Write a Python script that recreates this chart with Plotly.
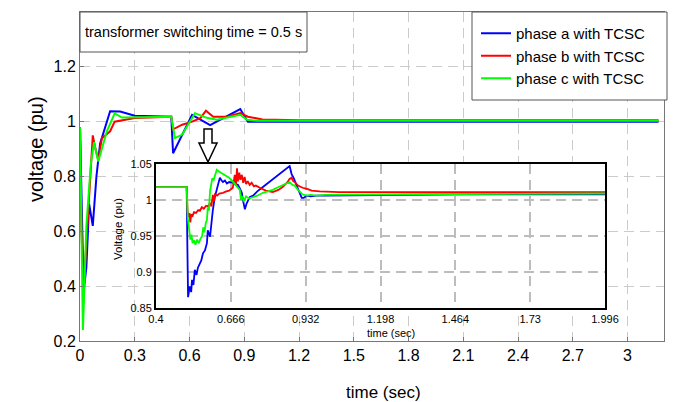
import plotly.graph_objects as go

# ---------------- main plot data (time in s, voltage in pu) ----------------
t_main_a = [0, 0.008, 0.02, 0.035, 0.05, 0.07, 0.09, 0.11, 0.165, 0.22, 0.3, 0.5, 0.505, 0.51,
            0.614, 0.713, 0.878, 0.92, 1.0, 3.17]
v_main_a = [0.98, 0.7, 0.38, 0.47, 0.70, 0.62, 0.8, 0.92, 1.038, 1.037, 1.022, 1.018, 0.95, 0.885,
            1.025, 0.987, 1.046, 1.0, 1.0, 1.0]

t_main_b = [0, 0.008, 0.02, 0.04, 0.07, 0.085, 0.1, 0.12, 0.165, 0.19, 0.3, 0.5, 0.51, 0.56, 0.614,
            0.66, 0.69, 0.73, 0.805, 0.878, 0.92, 1.0, 1.2, 3.17]
v_main_b = [0.98, 0.6, 0.39, 0.6, 0.95, 0.9, 0.86, 0.94, 0.965, 1.0, 1.013, 1.018, 0.972, 0.989, 1.0,
            1.013, 1.04, 1.018, 1.018, 1.031, 1.018, 1.008, 1.005, 1.005]

t_main_c = [0, 0.005, 0.016, 0.035, 0.06, 0.077, 0.1, 0.147, 0.19, 0.23, 0.5, 0.52, 0.56, 0.63,
            0.695, 0.75, 0.878, 0.915, 0.97, 3.17]
v_main_c = [0.98, 0.7, 0.24, 0.62, 0.85, 0.925, 0.855, 0.965, 1.03, 1.015, 1.018, 0.94, 0.953, 1.031,
            1.014, 1.007, 1.025, 1.007, 1.003, 1.003]

# ---------------- inset (zoomed) data ----------------
t_in_a = [0.40, 0.509, 0.511, 0.514, 0.52, 0.525, 0.528, 0.533, 0.538, 0.544, 0.549, 0.556, 0.561,
          0.567, 0.574, 0.581, 0.584, 0.592, 0.597, 0.602, 0.609, 0.614, 0.62, 0.627, 0.633, 0.638,
          0.645, 0.652, 0.66, 0.673, 0.68, 0.691, 0.698, 0.705, 0.71, 0.716, 0.722, 0.728, 0.733,
          0.745, 0.76, 0.78, 0.80, 0.82, 0.84, 0.86, 0.875, 0.882, 0.89, 0.9, 0.91, 0.918, 0.925,
          0.935, 0.95, 0.97, 1.0, 1.2, 1.5, 1.996]
v_in_a = [1.018, 1.018, 0.95, 0.865, 0.88, 0.872, 0.889, 0.882, 0.903, 0.896, 0.906, 0.912, 0.916,
          0.926, 0.93, 0.94, 0.958, 0.949, 0.97, 0.986, 1.004, 1.012, 1.024, 1.031, 1.027, 1.025,
          1.027, 1.023, 1.025, 1.024, 1.022, 1.021, 1.016, 1.01, 0.998, 0.987, 0.995, 0.999, 1.004,
          1.006, 1.012, 1.018, 1.024, 1.03, 1.036, 1.042, 1.047, 1.036, 1.03, 1.02, 1.01, 1.003, 1.003,
          1.006, 1.005, 1.006, 1.006, 1.007, 1.008, 1.008]

t_in_b = [0.40, 0.509, 0.512, 0.515, 0.519, 0.522, 0.525, 0.53, 0.535, 0.542, 0.55, 0.556, 0.563,
          0.57, 0.578, 0.585, 0.592, 0.597, 0.602, 0.606, 0.61, 0.617, 0.625, 0.638, 0.65, 0.66,
          0.673, 0.68, 0.684, 0.688, 0.691, 0.696, 0.7, 0.705, 0.71, 0.715, 0.72, 0.726, 0.733,
          0.74, 0.748, 0.755, 0.769, 0.79, 0.815, 0.835, 0.85, 0.86, 0.868, 0.874, 0.882, 0.888,
          0.893, 0.905, 0.921, 0.94, 0.953, 0.982, 1.05, 1.4, 1.996]
v_in_b = [1.018, 1.018, 0.985, 0.976, 0.982, 0.969, 0.98, 0.978, 0.983, 0.982, 0.986, 0.985, 0.99,
          0.988, 0.992, 0.991, 0.996, 0.991, 1.007, 0.998, 1.008, 1.006, 1.009, 1.01, 1.012, 1.013,
          1.017, 1.035, 1.02, 1.044, 1.026, 1.038, 1.028, 1.035, 1.024, 1.032, 1.022, 1.026, 1.021,
          1.024, 1.019, 1.02, 1.017, 1.013, 1.011, 1.014, 1.018, 1.022, 1.025, 1.029, 1.031, 1.026,
          1.025, 1.02, 1.017, 1.015, 1.013, 1.012, 1.011, 1.011, 1.011]

t_in_c = [0.40, 0.509, 0.513, 0.518, 0.522, 0.526, 0.53, 0.535, 0.54, 0.546, 0.552, 0.558, 0.564,
          0.568, 0.572, 0.577, 0.581, 0.584, 0.588, 0.592, 0.596, 0.6, 0.605, 0.61, 0.616, 0.622,
          0.63, 0.64, 0.65, 0.66, 0.67, 0.68, 0.69, 0.698, 0.702, 0.706, 0.712, 0.72, 0.73, 0.744,
          0.76, 0.78, 0.8, 0.815, 0.83, 0.85, 0.865, 0.875, 0.885, 0.893, 0.905, 0.92, 0.936, 0.95,
          0.97, 1.0, 1.3, 1.996]
v_in_c = [1.018, 1.018, 0.975, 0.958, 0.945, 0.952, 0.94, 0.944, 0.938, 0.945, 0.94, 0.946, 0.95,
          0.962, 0.955, 0.968, 0.972, 0.99, 0.985, 1.012, 1.02, 1.03, 1.028, 1.036, 1.042, 1.04,
          1.038, 1.036, 1.033, 1.031, 1.027, 1.022, 1.018, 1.014, 1.0, 1.005, 0.998, 1.005, 1.002,
          1.004, 1.006, 1.01, 1.012, 1.014, 1.017, 1.021, 1.024, 1.025, 1.021, 1.02, 1.014, 1.008,
          1.006, 1.007, 1.006, 1.007, 1.008, 1.009]

series_names = ["phase a with TCSC", "phase b with TCSC", "phase c with TCSC"]
colors = ["#0000ff", "#ff0000", "#00ff00"]

main_x_ticks = [0, 0.3, 0.6, 0.9, 1.2, 1.5, 1.8, 2.1, 2.4, 2.7, 3.0]
main_x_labels = ["0", "0.3", "0.6", "0.9", "1.2", "1.5", "1.8", "2.1", "2.4", "2.7", "3"]
main_y_ticks = [0.2, 0.4, 0.6, 0.8, 1.0, 1.2]
main_y_labels = ["0.2", "0.4", "0.6", "0.8", "1", "1.2"]
inset_x_ticks = [0.4, 0.666, 0.932, 1.198, 1.464, 1.73, 1.996]
inset_x_labels = ["0.4", "0.666", "0.932", "1.198", "1.464", "1.73", "1.996"]
inset_y_ticks = [0.85, 0.9, 0.95, 1.0, 1.05]
inset_y_labels = ["0.85", "0.9", "0.95", "1", "1.05"]

FONT = "Liberation Sans, Arial, sans-serif"
W, H = 673, 402
ML, MR, MT, MB = 80, 9, 12, 61
PW, PH = W - ML - MR, H - MT - MB


def px(x):
    return (x - ML) / PW


def py(y):
    return (H - MB - y) / PH


fig = go.Figure()
main_sets = [(t_main_a, v_main_a), (t_main_b, v_main_b), (t_main_c, v_main_c)]
inset_sets = [(t_in_a, v_in_a), (t_in_b, v_in_b), (t_in_c, v_in_c)]
for (t, v), name, c in zip(main_sets, series_names, colors):
    fig.add_trace(go.Scatter(x=t, y=v, mode="lines", name=name,
                             line=dict(color=c, width=2), xaxis="x", yaxis="y"))
for (t, v), name, c in zip(inset_sets, series_names, colors):
    fig.add_trace(go.Scatter(x=t, y=v, mode="lines", name=name, showlegend=False,
                             line=dict(color=c, width=1.8), xaxis="x2", yaxis="y2"))

grid = dict(showgrid=True, gridcolor="#cbcbcb", griddash="10px,6px", gridwidth=1, zeroline=False)
grid_in = dict(showgrid=True, gridcolor="#bdbdbd", griddash="10px,6px", gridwidth=1.5, zeroline=False)

fig.update_layout(
    width=W, height=H,
    margin=dict(l=ML, r=MR, t=MT, b=MB, autoexpand=False),
    paper_bgcolor="white", plot_bgcolor="white",
    font=dict(family=FONT, color="black"),
    xaxis=dict(domain=[0, 1], range=[0, 3.2], tickvals=main_x_ticks, ticktext=main_x_labels,
               showline=True, linecolor="#777777", linewidth=1, mirror=True,
               ticks="inside", ticklen=4, tickcolor="#777777",
               tickfont=dict(size=16, family=FONT, color="black"), **grid),
    yaxis=dict(domain=[0, 1], range=[0.2, 1.4], tickvals=main_y_ticks, ticktext=main_y_labels,
               showline=True, linecolor="#777777", linewidth=1, mirror=True,
               ticks="inside", ticklen=4, tickcolor="#777777",
               tickfont=dict(size=16, family=FONT, color="black"), **grid),
    xaxis2=dict(domain=[px(156), px(605)], anchor="y2", range=[0.4, 1.996],
                tickvals=inset_x_ticks, ticktext=inset_x_labels,
                showline=True, linecolor="black", linewidth=2, mirror=True, ticks="",
                tickfont=dict(size=11, family=FONT, color="black"), **grid_in),
    yaxis2=dict(domain=[py(308), py(164)], anchor="x2", range=[0.85, 1.05],
                tickvals=inset_y_ticks, ticktext=inset_y_labels,
                showline=True, linecolor="black", linewidth=2, mirror=True, ticks="",
                tickfont=dict(size=11, family=FONT, color="black"), **grid_in),
    showlegend=True,
    legend=dict(x=px(476), y=py(17), xanchor="left", yanchor="top",
                bgcolor="rgba(0,0,0,0)", borderwidth=0,
                font=dict(size=15, family=FONT, color="black"),
                tracegroupgap=0, itemwidth=30),
)

shapes = [
    # title box
    dict(type="rect", xref="paper", yref="paper", x0=px(80), x1=px(307), y0=py(52), y1=py(12),
         fillcolor="white", line=dict(color="#555555", width=1), layer="above"),
    # legend box
    dict(type="rect", xref="paper", yref="paper", x0=px(472), x1=px(667), y0=py(100), y1=py(12),
         fillcolor="white", line=dict(color="#555555", width=1), layer="above"),
]
arrow_pts = [(204, 129), (212, 129), (212, 143), (217, 143), (208, 162), (199, 143), (204, 143)]
path = "M " + " L ".join(f"{px(x):.5f},{py(y):.5f}" for x, y in arrow_pts) + " Z"
shapes.append(dict(type="path", xref="paper", yref="paper", path=path,
                   fillcolor="white", line=dict(color="black", width=1.5), layer="above"))
fig.update_layout(shapes=shapes)


def note(text, x, y, size, angle=0):
    return dict(text=text, x=px(x), y=py(y), xref="paper", yref="paper", xanchor="center",
                yanchor="middle", textangle=angle, showarrow=False,
                font=dict(size=size, family=FONT, color="black"))


annotations = [
    note("transformer switching time = 0.5 s", 193.5, 32, 14.5),
    note("time (sec)", 383, 392, 17),
    note("voltage (pu)", 36, 149, 20, -90),
    note("time (sec)", 391, 333, 11),
    note("Voltage (pu)", 118, 229, 11.5, -90),
]
fig.update_layout(annotations=annotations)

fig.write_html("out.html")
